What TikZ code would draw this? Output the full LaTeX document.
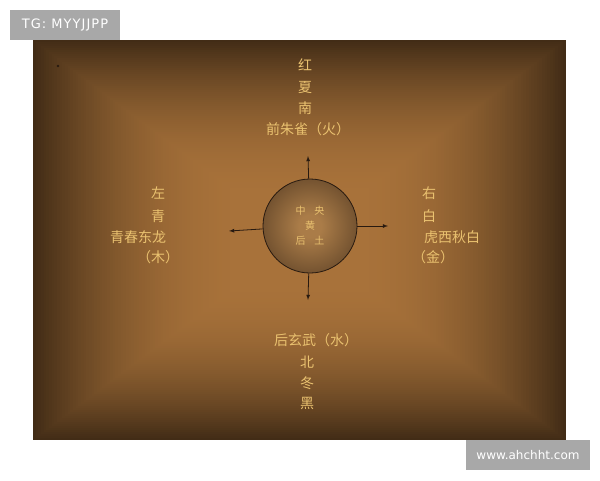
\documentclass[tikz,border=0pt]{standalone}
\usepackage{fontspec}
\setmainfont{DejaVu Sans}
\newfontfamily\cjk{Noto Sans CJK SC}
\newfontfamily\wmwide[LetterSpace=8]{DejaVu Sans}
\usetikzlibrary{arrows,positioning}

\definecolor{bgin}{RGB}{168,114,58}
\definecolor{bgout}{RGB}{66,44,22}
\definecolor{discin}{RGB}{170,124,72}
\definecolor{discmid}{RGB}{102,72,42}
\definecolor{discout}{RGB}{56,38,23}
\definecolor{gold}{RGB}{234,194,112}
\definecolor{ink}{RGB}{40,26,16}
\definecolor{wmgray}{RGB}{168,168,168}

\pgfdeclareradialshading{disc}{\pgfpoint{0bp}{0bp}}{color(0bp)=(discin); color(6bp)=(discin); color(30bp)=(discmid); color(50bp)=(discout); color(100bp)=(discout)}

\begin{document}
\begin{tikzpicture}[x=1pt,y=-1pt,
  hanzi/.style={text=gold,font=\cjk\fontsize{14}{14}\selectfont,inner sep=0pt},
  arr/.style={->,>=latex,draw=ink,line width=0.8pt},
  tagbox/.style={fill=wmgray,text=white,inner sep=0pt,font=\fontsize{12}{12}\selectfont}]
  \useasboundingbox (0,0) rectangle (600,480);
  \fill[white] (0,0) rectangle (600,480);
  %% panel, lighter towards the middle
  \foreach \i in {0,...,80} {
    \pgfmathsetmacro\p{100*(1-(1-\i/80)*(1-\i/80))}
    \fill[bgin!\p!bgout] (33+\i*2.66,40+\i*2) rectangle (566-\i*2.66,440-\i*2);
  }
  \fill[ink] (58,66) circle (1.3);

  %% centre
  \node[circle,minimum size=94pt,draw=ink,line width=0.8pt,shading=disc,
        text=gold,align=center,font=\cjk\fontsize{10}{15}\selectfont] (zhong) at (310,226)
        {中\hspace{0.9em}央\\黄\\后\hspace{0.9em}土};

  %% south (top)
  \node[hanzi] (hong) at (305,65) {红};
  \node[hanzi] (xia) at (305,87) {夏};
  \node[hanzi] (nan) at (305,108) {南};
  \node[hanzi] (zhuque) at (308,129) {前朱雀（火）};

  %% east (left)
  \node[hanzi] (zuo) at (158,193) {左};
  \node[hanzi] (qing) at (158,216) {青};
  \node[hanzi] (qinglong) at (138,237) {青春东龙};
  \node[hanzi] (mu) at (158,257) {（木）};

  %% west (right)
  \node[hanzi] (you) at (429,193) {右};
  \node[hanzi] (bai) at (429,216) {白};
  \node[hanzi] (baihu) at (452,237) {虎西秋白};
  \node[hanzi] (jin) at (433,257) {（金）};

  %% north (bottom)
  \node[hanzi] (xuanwu) at (316,340) {后玄武（水）};
  \node[hanzi] (bei) at (307,362) {北};
  \node[hanzi] (dong) at (307,383) {冬};
  \node[hanzi] (hei) at (307,403) {黑};

  \coordinate (tipn) at (308,156);
  \coordinate (tips) at (308,300);
  \coordinate (tipw) at (229,231);
  \coordinate (tipe) at (388,226);
  \draw[arr] (zhong) -- (tipn);
  \draw[arr] (zhong) -- (tips);
  \draw[arr] (zhong) -- (tipw);
  \draw[arr] (zhong) -- (tipe);

  %% marks
  \node[tagbox,minimum width=110pt,minimum height=30pt,font=\wmwide\fontsize{13}{13}\selectfont] (tg) at (65,25) {TG: MYYJJPP};
  \node[tagbox,minimum width=124pt,minimum height=30pt] (site) at (528,455) {www.ahchht.com};
\end{tikzpicture}
\end{document}
